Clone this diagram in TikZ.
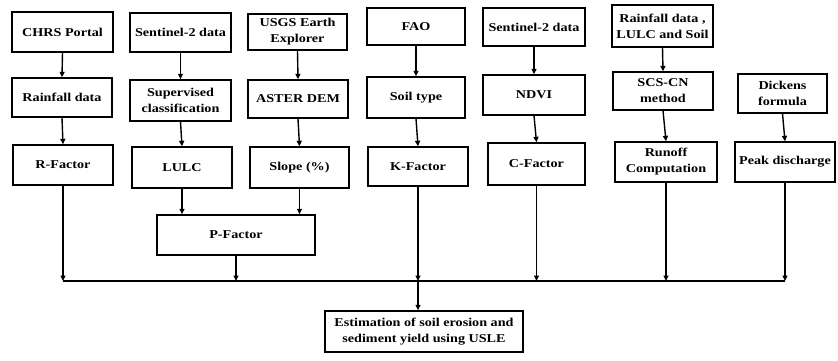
\documentclass[tikz,border=0pt]{standalone}
\usepackage{fontspec}
\setmainfont{Liberation Serif}[FakeStretch=1.18]
\usetikzlibrary{arrows.meta}
\tikzset{
  box/.style={draw, line width=1.4pt, align=center, inner sep=0pt,
    font=\bfseries\fontsize{12}{16}\selectfont},
  arr/.style={-{Triangle[length=5.5pt,width=5pt]}, line width=1.4pt},
  ln/.style={line width=1.4pt}
}
\begin{document}
\begin{tikzpicture}[x=1pt,y=-1pt]
\useasboundingbox (0,0) rectangle (838,360);
% row 1
\node[box, minimum width=101pt, minimum height=40pt] (chrs) at (62.5,32) {CHRS Portal};
\node[box, minimum width=101pt, minimum height=39pt] (sen1) at (180.5,32.5) {Sentinel-2 data};
\node[box, minimum width=99pt, minimum height=36pt] (usgs) at (297.5,32) {USGS Earth\\Explorer};
\node[box, minimum width=98pt, minimum height=37pt] (fao) at (416,26.5) {FAO};
\node[box, minimum width=102pt, minimum height=38pt] (sen2) at (534,27) {Sentinel-2 data};
\node[box, minimum width=101pt, minimum height=42pt] (rld) at (662.5,26) {Rainfall data ,\\LULC and Soil};
% row 2
\node[box, minimum width=100pt, minimum height=39pt] (rain) at (62,97.5) {Rainfall data};
\node[box, minimum width=101pt, minimum height=41pt] (sup) at (180.5,100.5) {Supervised\\classification};
\node[box, minimum width=100pt, minimum height=38pt] (aster) at (298,99) {ASTER DEM};
\node[box, minimum width=98pt, minimum height=41pt] (soil) at (416,97.5) {Soil type};
\node[box, minimum width=102pt, minimum height=40pt] (ndvi) at (534,95) {NDVI};
\node[box, minimum width=100pt, minimum height=38pt] (scs) at (663,91) {SCS-CN\\method};
\node[box, minimum width=89pt, minimum height=39pt] (dick) at (782.5,93.5) {Dickens\\formula};
% row 3
\node[box, minimum width=100pt, minimum height=40pt] (rf) at (63,165) {R-Factor};
\node[box, minimum width=100pt, minimum height=41pt] (lulc) at (182,167.5) {LULC};
\node[box, minimum width=99pt, minimum height=41pt] (slope) at (299.5,167.5) {Slope (\%)};
\node[box, minimum width=100pt, minimum height=39pt] (kf) at (418,166.5) {K-Factor};
\node[box, minimum width=97pt, minimum height=42pt] (cf) at (536.5,164) {C-Factor};
\node[box, minimum width=102pt, minimum height=40pt] (run) at (666,162) {Runoff\\Computation};
\node[box, minimum width=100pt, minimum height=40pt] (peak) at (785,162) {Peak discharge};
% row 4
\node[box, minimum width=158pt, minimum height=40pt] (pf) at (236,235) {P-Factor};
\node[box, minimum width=198pt, minimum height=41pt] (est) at (424,331.5) {Estimation of soil erosion and\\sediment yield using USLE};
% connectors
\foreach \a/\b in {chrs/rain, sen1/sup, usgs/aster, fao/soil, sen2/ndvi, rld/scs, rain/rf, sup/lulc, aster/slope, soil/kf, ndvi/cf, scs/run, dick/peak}
  \draw[arr] (\a.south) -- (\b.north);
\draw[arr] (lulc.south) -- (lulc.south |- pf.north);
\draw[arr] (slope.south) -- (slope.south |- pf.north);
\coordinate (hy) at (0,281);
\draw[ln] (rf.south |- hy) -- (peak.south |- hy);
\foreach \a in {rf, pf, kf, cf, run, peak}
  \draw[arr] (\a.south) -- (\a.south |- hy);
\draw[arr] (kf.south |- hy) -- (kf.south |- est.north);
\end{tikzpicture}
\end{document}
